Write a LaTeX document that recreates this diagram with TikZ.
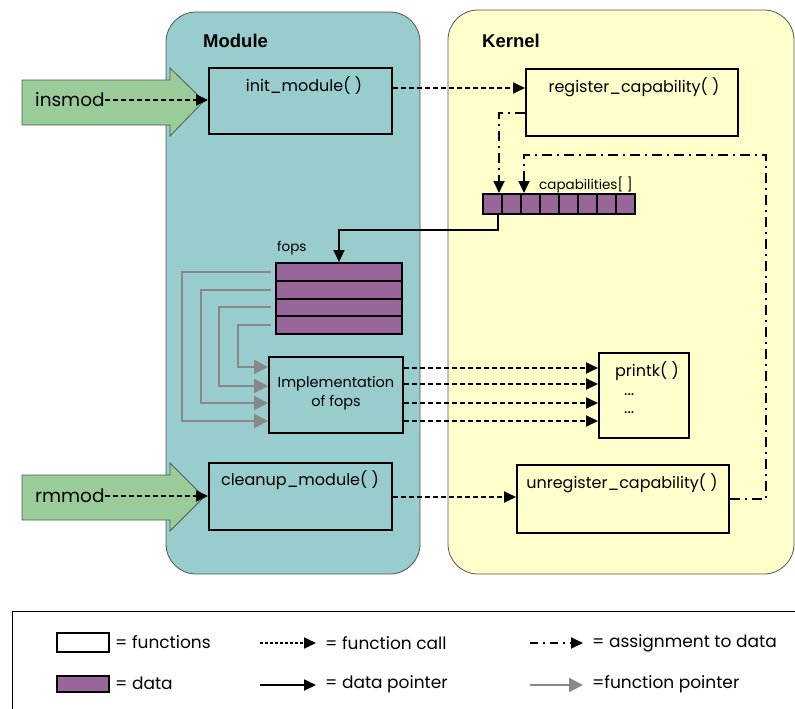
\documentclass[tikz,border=0pt]{standalone}
\usepackage{fontspec}
\setmainfont{Poppins}
\newfontfamily\headfont{Liberation Sans}
\usetikzlibrary{arrows.meta}
\definecolor{modfill}{HTML}{99CCCC}
\definecolor{kerfill}{HTML}{FFFFCC}
\definecolor{cmdfill}{HTML}{99CC99}
\definecolor{datafill}{HTML}{996699}
\definecolor{ptrgray}{HTML}{888888}
\definecolor{edgegray}{HTML}{555555}

\begin{document}
\begin{tikzpicture}[x=1pt,y=-1pt,
  panel/.style={draw=edgegray, line width=0.8pt, rounded corners=30pt},
  cmdarrow/.style={draw=edgegray, line width=0.8pt, fill=cmdfill},
  fnbox/.style={draw=black, line width=2pt, rectangle, inner sep=0pt, anchor=north west},
  databox/.style={fnbox, fill=datafill},
  title/.style={font=\headfont\bfseries\fontsize{18.5}{21}\selectfont, inner sep=0pt, anchor=west},
  txt/.style={font=\fontsize{16}{19}\selectfont, inner sep=0pt},
  lgtxt/.style={font=\fontsize{17}{20}\selectfont, inner sep=0pt, anchor=west},
  cmdtxt/.style={font=\fontsize{18.5}{21}\selectfont, inner sep=0pt, anchor=west},
  small/.style={font=\fontsize{13.5}{16}\selectfont, inner sep=0pt, anchor=west},
  tip/.style={-{Triangle[length=12pt,width=11pt]}},
  call/.style={tip, line width=1.8pt, dash pattern=on 5pt off 3pt},
  assign/.style={tip, line width=1.8pt, dash pattern=on 10pt off 5pt on 2pt off 5pt},
  dptr/.style={tip, line width=1.8pt},
  fptr/.style={draw=ptrgray, line width=2.2pt, -{Triangle[length=14pt,width=14pt,fill=ptrgray]}}
]
\useasboundingbox (0,0) rectangle (795,709);
\clip (0,0) rectangle (795,709);

% the two address spaces
\draw[panel, fill=modfill] (166,12) rectangle (420,574);
\draw[panel, fill=kerfill] (448,10) rectangle (794,574);
\node[title] (modT) at (203,41) {Module};
\node[title] (kerT) at (482,41) {Kernel};

% user commands
\draw[cmdarrow] (22,80) -- (170,80) -- (170,68) -- (204,101) -- (170,136) -- (170,125) -- (22,125) -- cycle;
\draw[cmdarrow] (22,475) -- (170,475) -- (170,463) -- (204,497) -- (170,531) -- (170,520) -- (22,520) -- cycle;
\node[cmdtxt] (insmodT) at (35,100) {insmod};
\node[cmdtxt] (rmmodT) at (35,496) {rmmod};

% functions
\node[fnbox, minimum width=183pt, minimum height=66pt] (init) at (208,67) {};
\node[txt, anchor=north] (initT) at (304,76) {init\_module( )};
\node[fnbox, minimum width=212pt, minimum height=67pt] (reg) at (525,68) {};
\node[txt, anchor=north] (regT) at (634,77) {register\_capability( )};
\node[fnbox, minimum width=134pt, minimum height=76pt] (impl) at (268,356) {};
\node[txt, align=center, font=\fontsize{14.5}{17}\selectfont] (implT) at (336,393) {Implementation\\[2pt]of fops};
\node[fnbox, minimum width=90pt, minimum height=85pt] (pk) at (598,352) {};
\node[txt] (pkT) at (647,371) {printk( )};
\node[txt, anchor=west] (pkA) at (624,395) {...};
\node[txt, anchor=west] (pkB) at (624,413) {...};
\node[fnbox, minimum width=183pt, minimum height=67pt] (clean) at (208,462) {};
\node[txt, anchor=north] (cleanT) at (300,470) {cleanup\_module( )};
\node[fnbox, minimum width=212pt, minimum height=68pt] (unreg) at (516,464) {};
\node[txt, anchor=north] (unregT) at (622,473) {unregister\_capability( )};

% data
\foreach \i in {1,...,8}
  \node[databox, minimum width=19pt, minimum height=20pt] (cap\i) at ({482+19*(\i-1)},193) {};
\node[small] (capT) at (539,185) {capabilities[ ]};
\foreach \i in {1,...,4}
  \node[databox, minimum width=126pt, minimum height=17.75pt] (f\i) at (275,{262+17.75*(\i-1)}) {};
\node[small] (fopsT) at (277,248) {fops};

% function calls
\draw[call] (insmodT.east) -- (init.west |- insmodT.east);
\draw[call] (rmmodT.east) -- (clean.west |- rmmodT.east);
\draw[call] ([yshift=-21pt]init.north east) -- ([yshift=-21pt]init.north east -| reg.west);
\draw[call] ([yshift=-35pt]clean.north east) -- ([yshift=-35pt]clean.north east -| unreg.west);
\foreach \yy in {368,384,403,421}
  \draw[call] (impl.east |- 0,\yy) -- (pk.west |- 0,\yy);

% assignments to capabilities[]
\draw[assign] ([yshift=-45pt]reg.north west) -| ([xshift=-2pt]cap2.north west);
\draw[assign] (unreg.east) -| (766,155) -| ([xshift=4pt]cap3.north west);

% data pointer
\draw[dptr] ([xshift=-3pt]cap2.south west) -- ++(0,15) -| (f1.north);

% function pointers
\draw[fptr] ([xshift=-4pt]f1.west) -| (182,421) -- (impl.west |- 0,421);
\draw[fptr] ([xshift=-4pt]f2.west) -| (201,403) -- (impl.west |- 0,403);
\draw[fptr] ([xshift=-4pt]f3.west) -| (219,386) -- (impl.west |- 0,386);
\draw[fptr] ([xshift=-4pt]f4.west) -| (238,367) -- (impl.west |- 0,367);

% legend
\draw[line width=0.8pt] (12,611) rectangle (805,720);
\node[fnbox, fill=white, minimum width=52pt, minimum height=19pt] (lgFn) at (56,632) {};
\node[databox, minimum width=52pt, minimum height=16pt] (lgData) at (56,675) {};
\node[lgtxt] (lgFnT) at (115,642) {= functions};
\node[lgtxt] (lgDataT) at (115,683) {= data};
\coordinate (lgCallA) at (260,643);  \coordinate (lgCallB) at (316,643);
\coordinate (lgPtrA) at (260,685);   \coordinate (lgPtrB) at (316,685);
\coordinate (lgAsA) at (530,643);    \coordinate (lgAsB) at (583,643);
\coordinate (lgFpA) at (530,685);    \coordinate (lgFpB) at (583,685);
\draw[call, dash pattern=on 3pt off 2pt] (lgCallA) -- (lgCallB);
\draw[dptr] (lgPtrA) -- (lgPtrB);
\draw[assign, dash pattern=on 8pt off 5pt on 2pt off 5pt] (lgAsA) -- (lgAsB);
\draw[fptr] (lgFpA) -- (lgFpB);
\node[lgtxt] (lgCallT) at (325,643) {= function call};
\node[lgtxt] (lgPtrT) at (325,684) {= data pointer};
\node[lgtxt] (lgAsT) at (592,643) {= assignment to data};
\node[lgtxt] (lgFpT) at (592,684) {=function pointer};
\end{tikzpicture}
\end{document}
